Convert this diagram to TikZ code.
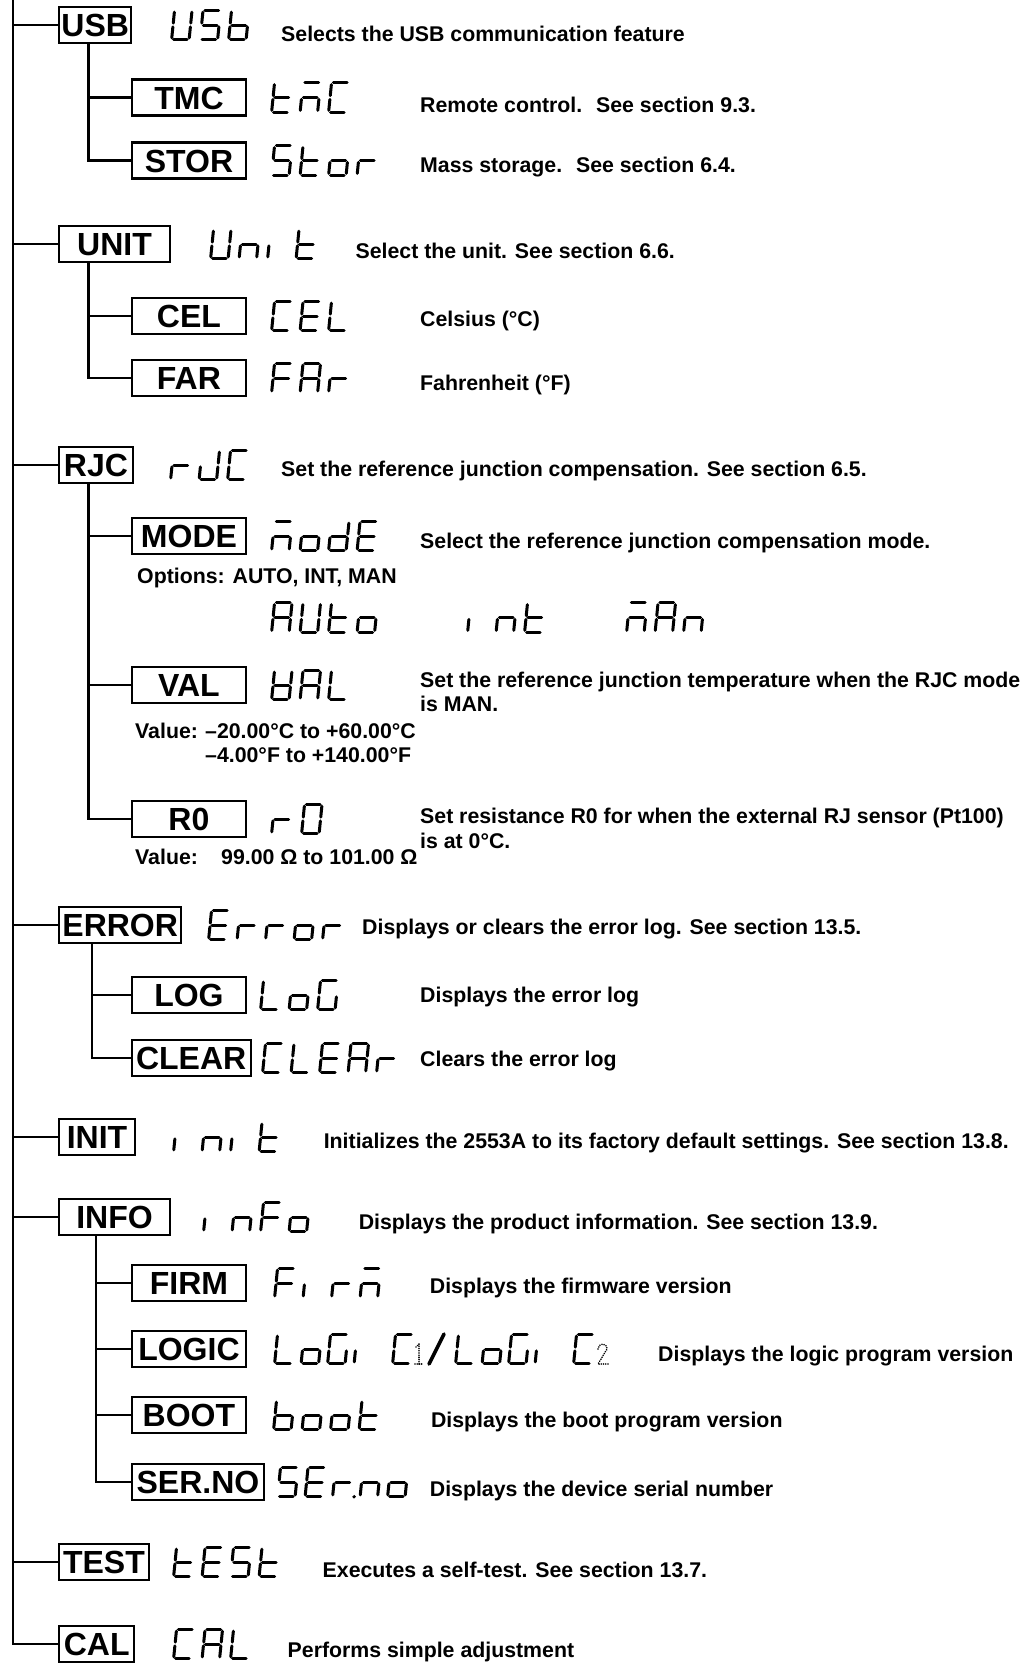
\documentclass[tikz,border=0pt]{standalone}
\usepackage{fontspec}
\setmainfont{Liberation Sans}
\newcommand\gW{17.5}
\newcommand\gH{29.5}
\newcommand\gp{1.9}
% glyph segment lists (a top, b upper right, c lower right, d bottom, e lower left, f upper left, g middle, p point)
\def\glU{b,c,d,e,f}
\def\glS{a,c,d,f,g}
\def\glb{c,d,e,f,g}
\def\glt{d,e,f,g}
\def\glm{a,c,e,g}
\def\glC{a,d,e,f}
\def\glo{c,d,e,g}
\def\glr{e,g}
\def\glR{e,g,p}
\def\gln{c,e,g}
\def\glE{a,d,e,f,g}
\def\glL{d,e,f}
\def\glF{a,e,f,g}
\def\glA{a,b,c,e,f,g}
\def\gli{e}
\def\glJ{b,c,d,e}
\def\gld{b,c,d,e,g}
\def\glG{a,c,d,e,f}
\def\glV{b,c,d,e,f,g}
\def\glO{a,b,c,d,e,f}
\def\glx{z}
\newcommand\sgdraw[1]{%
 \if#1a\draw[segline] (\gp,\gH) -- (\gW-\gp,\gH);\fi
 \if#1b\draw[segline] (\gW,\gH-\gp) -- (\gW,\gH/2+\gp);\fi
 \if#1c\draw[segline] (\gW,\gH/2-\gp) -- (\gW,\gp);\fi
 \if#1d\draw[segline] (\gp,0) -- (\gW-\gp,0);\fi
 \if#1e\draw[segline] (0,\gH/2-\gp) -- (0,\gp);\fi
 \if#1f\draw[segline] (0,\gH-\gp) -- (0,\gH/2+\gp);\fi
 \if#1g\draw[segline] (\gp,\gH/2) -- (\gW-\gp,\gH/2);\fi
 \if#1p\fill (\gW+4,0) circle (1.9);\fi
}
\newcommand\lcd[4]{%
  \foreach \gc [count=\gi from 0] in {#4} {%
    \begin{scope}[shift={({#1+\gi*#3+1.6},{-#2-\gH/2})}, xslant=0.1]
      \edef\gsegs{\csname gl\gc\endcsname}%
      \foreach \s in \gsegs {\sgdraw{\s}}%
    \end{scope}}}
\begin{document}
\begin{tikzpicture}[x=1pt,y=1pt,
  lone/.style={draw, line width=2.4, inner xsep=2, inner ysep=0, minimum height=36,
    text height=23, text depth=0, font=\fontsize{32}{36}\selectfont\bfseries, anchor=west},
  ltwo/.style={lone, minimum width=114.5},
  desc/.style={anchor=base west, inner sep=0, font=\fontsize{21.3}{25}\selectfont\bfseries},
  conn/.style={line width=2.3},
  segline/.style={line width=3.0, line cap=round},
  dotdig/.style={line width=1.8, line cap=round, dash pattern=on 0.01 off 2.2}]
\useasboundingbox (0,0) rectangle (1026,-1663);

% level 1 boxes
\node[lone, minimum width=72]    (usb)   at (58,-25)   {USB};
\node[lone, minimum width=110.7] (unit)  at (58,-244)  {UNIT};
\node[lone, minimum width=73.6]  (rjc)   at (58,-465)  {RJC};
\node[lone, minimum width=122]   (error) at (58,-925)  {ERROR};
\node[lone, minimum width=75.7]  (init)  at (58,-1137) {INIT};
\node[lone, minimum width=110.7] (info)  at (58,-1217) {INFO};
\node[lone, minimum width=89.5]  (test)  at (58,-1562) {TEST};
\node[lone, minimum width=75]    (cal)   at (58,-1644) {CAL};

% level 2 boxes
\node[ltwo] (tmc)   at (130.5,-97.5)  {TMC};
\node[ltwo] (stor)  at (130.5,-160.5) {STOR};
\node[ltwo] (cel)   at (130.5,-316)   {CEL};
\node[ltwo] (far)   at (130.5,-378)   {FAR};
\node[ltwo] (mode)  at (130.5,-536)   {MODE};
\node[ltwo] (val)   at (130.5,-685)   {VAL};
\node[ltwo] (r0)    at (130.5,-819)   {R0};
\node[ltwo] (log)   at (130.5,-995)   {LOG};
\node[ltwo, minimum width=119] (clear) at (130.5,-1058) {CLEAR};
\node[ltwo] (firm)  at (130.5,-1283)  {FIRM};
\node[ltwo] (logic) at (130.5,-1349)  {LOGIC};
\node[ltwo] (boot)  at (130.5,-1415)  {BOOT};
\node[ltwo, minimum width=132.5] (serno) at (130.5,-1482) {SER.NO};

% main trunk
\coordinate (mtop) at (12.7,0);
\draw[conn] (mtop) |- (cal.west);
\foreach \n in {usb,unit,rjc,error,init,info,test}
  \draw[conn] (mtop |- \n.west) -- (\n.west);

% sub trunks
\coordinate (usbs) at ([xshift=30.5]usb.south west);
\draw[conn] (usbs) |- (stor.west);
\draw[conn] (usbs |- tmc.west) -- (tmc.west);
\coordinate (units) at ([xshift=30.5]unit.south west);
\draw[conn] (units) |- (far.west);
\draw[conn] (units |- cel.west) -- (cel.west);
\coordinate (rjcs) at ([xshift=30.5]rjc.south west);
\draw[conn] (rjcs) |- (r0.west);
\draw[conn] (rjcs |- mode.west) -- (mode.west);
\draw[conn] (rjcs |- val.west) -- (val.west);
\coordinate (errs) at ([xshift=34]error.south west);
\draw[conn] (errs) |- (clear.west);
\draw[conn] (errs |- log.west) -- (log.west);
\coordinate (infos) at ([xshift=38]info.south west);
\draw[conn] (infos) |- (serno.west);
\foreach \n in {firm,logic,boot}
  \draw[conn] (infos |- \n.west) -- (\n.west);

% seven segment displays
\lcd{170}{25}{28.5}{U,S,b}
\lcd{270}{97.5}{28.5}{t,m,C}
\lcd{270}{160.5}{28.5}{S,t,o,r}
\lcd{209}{244}{28.5}{U,n,i,t}
\lcd{270}{316}{28.5}{C,E,L}
\lcd{270}{378}{28.5}{F,A,r}
\lcd{169}{465}{28.5}{r,J,C}
\lcd{270}{536}{28.5}{m,o,d,E}
\lcd{270}{617.5}{28.5}{A,U,t,o}
\lcd{466}{617.5}{28.5}{i,n,t}
\lcd{625}{617.5}{28.5}{m,A,n}
\lcd{270}{685}{28.5}{V,A,L}
\lcd{270}{819}{30}{r,O}
\lcd{207}{925}{28.5}{E,r,r,o,r}
\lcd{259}{995}{28.5}{L,o,G}
\lcd{261}{1058}{28.5}{C,L,E,A,r}
\lcd{172}{1137}{28.5}{i,n,i,t}
\lcd{202}{1217}{28.5}{i,n,F,o}
\lcd{273}{1283}{28.5}{F,i,r,m}
\lcd{273}{1349}{26.5}{L,o,G,i}
\lcd{391}{1349}{26.5}{C}
\lcd{454}{1349}{26.5}{L,o,G,i}
\lcd{572}{1349}{26.5}{C}
\lcd{272}{1415}{28.5}{b,o,o,t}
\lcd{276}{1482}{27.5}{S,E,R,n,o}
\lcd{172}{1562}{28.5}{t,E,S,t}
\lcd{172}{1644}{28.5}{C,A,L}
% small dotted digits and slash
\draw[dotdig] (419,-1364) -- (419,-1344) -- (415.5,-1347.5);
\draw[dotdig] (415,-1364) -- (423,-1364);
\draw[dotdig] (598,-1349) .. controls (598,-1343) and (607,-1342) .. (607,-1349) -- (598,-1364) -- (608,-1364);
\draw[line width=3.6, line cap=round] (429,-1364) -- (444,-1334);

% descriptions
\node[desc] (dusb)  at (281,-41)     {Selects the USB communication feature};
\node[desc] (dtmc)  at (420,-112)    {Remote control.~ See section 9.3.};
\node[desc] (dstor) at (420,-172.5)  {Mass storage.~ See section 6.4.};
\node[desc] (dunit) at (355.4,-258.5){Select the unit. See section 6.6.};
\node[desc] (dcel)  at (420,-326)    {Celsius (°C)};
\node[desc] (dfar)  at (420,-390)    {Fahrenheit (°F)};
\node[desc] (drjc)  at (281,-476)    {Set the reference junction compensation. See section 6.5.};
\node[desc] (dmode) at (420,-548)    {Select the reference junction compensation mode.};
\node[desc] (opt)   at (137,-583)    {Options: AUTO, INT, MAN};
\node[desc] (dval1) at (420,-687)    {Set the reference junction temperature when the RJC mode};
\node[desc] (dval2) at (420,-711.5)  {is MAN.};
\node[desc] (v1lab) at (135,-738)    {Value:};
\node[desc] (v1a)   at (205,-738)    {–20.00°C to +60.00°C};
\node[desc] (v1b)   at (205,-762)    {–4.00°F to +140.00°F};
\node[desc] (dr01)  at (420,-823)    {Set resistance R0 for when the external RJ sensor (Pt100)};
\node[desc] (dr02)  at (420,-848)    {is at 0°C.};
\node[desc] (v2lab) at (135,-864)    {Value:};
\node[desc] (v2a)   at (221,-864)    {99.00 Ω to 101.00 Ω};
\node[desc] (derr)  at (362,-934)    {Displays or clears the error log. See section 13.5.};
\node[desc] (dlog)  at (420,-1002)   {Displays the error log};
\node[desc] (dclr)  at (420,-1066)   {Clears the error log};
\node[desc] (dinit) at (323.6,-1148.6){Initializes the 2553A to its factory default settings. See section 13.8.};
\node[desc] (dinfo) at (358.6,-1229) {Displays the product information. See section 13.9.};
\node[desc] (dfirm) at (429.7,-1293) {Displays the firmware version};
\node[desc] (dlogic) at (658,-1361)  {Displays the logic program version};
\node[desc] (dboot) at (430.8,-1427.6){Displays the boot program version};
\node[desc] (dser)  at (429.7,-1496.6){Displays the device serial number};
\node[desc] (dtest) at (322.5,-1577) {Executes a self-test. See section 13.7.};
\node[desc] (dcal)  at (287.5,-1657) {Performs simple adjustment};
\end{tikzpicture}
\end{document}
